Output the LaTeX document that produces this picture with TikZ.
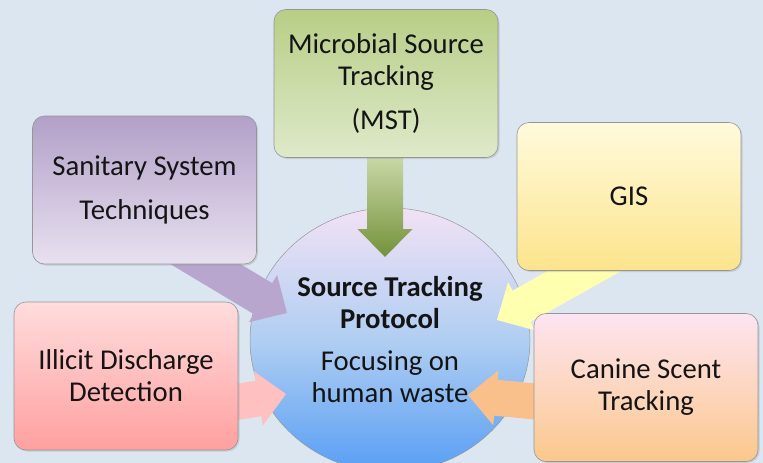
\documentclass[tikz,border=0pt]{standalone}
\usepackage{fontspec}
\setmainfont{Carlito}
\usetikzlibrary{calc, positioning, shadows, shapes.geometric}

\definecolor{slidebg}{RGB}{220,230,241}
\definecolor{inktext}{RGB}{20,20,20}
\definecolor{boxedge}{RGB}{150,150,150}
\definecolor{hubtop}{RGB}{242,226,245}
\definecolor{hubmid}{RGB}{176,206,242}
\definecolor{hubbot}{RGB}{88,158,244}
\definecolor{greentop}{RGB}{184,206,134}
\definecolor{greenbot}{RGB}{222,233,202}
\definecolor{purpletop}{RGB}{178,160,200}
\definecolor{purplebot}{RGB}{232,225,240}
\definecolor{yellowtop}{RGB}{255,250,220}
\definecolor{yellowbot}{RGB}{252,228,140}
\definecolor{redtop}{RGB}{255,220,220}
\definecolor{redbot}{RGB}{255,160,160}
\definecolor{pinktop}{RGB}{253,228,242}
\definecolor{orangebot}{RGB}{251,200,140}
\definecolor{greenlight}{RGB}{212,226,182}
\definecolor{greendark}{RGB}{116,145,58}
\definecolor{purplearrow}{RGB}{184,166,206}
\definecolor{yellowarrow}{RGB}{255,255,176}
\definecolor{redarrow}{RGB}{255,192,192}
\definecolor{orangearrow}{RGB}{250,192,140}

\pgfdeclarelayer{backdrop}
\pgfdeclarelayer{hubs}
\pgfdeclarelayer{arrows}
\pgfsetlayers{backdrop,hubs,arrows,main}

\tikzset{
    box/.style={rectangle, rounded corners=12pt, draw=boxedge, line width=.6pt,
        minimum width=224pt, minimum height=148pt, inner sep=0pt, align=center,
        font=\fontsize{28.7}{32}\selectfont, text=inktext,
        drop shadow={shadow xshift=1.5pt, shadow yshift=-1.5pt, opacity=.25}},
    hub/.style={ellipse, draw=boxedge, line width=.5pt, inner sep=0pt,
        minimum width=280pt, minimum height=264pt, align=center,
        font=\fontsize{28.7}{32}\selectfont, text=inktext,
        top color=hubtop, bottom color=hubbot, middle color=hubmid},
    greenbox/.style={top color=greentop, bottom color=greenbot},
    purplebox/.style={top color=purpletop, bottom color=purplebot},
    yellowbox/.style={top color=yellowtop, bottom color=yellowbot},
    redbox/.style={top color=redtop, bottom color=redbot},
    orangebox/.style={top color=pinktop, bottom color=orangebot},
    mstArrow/.style={top color=greenlight, bottom color=greendark},
    sanArrow/.style={fill=purplearrow},
    gisArrow/.style={fill=yellowarrow},
    idArrow/.style={fill=redarrow},
    canArrow/.style={fill=orangearrow},
}

% block arrow: #1 style, #2 start, #3 tip
\newcommand{\blockarrow}[3]{%
    \path (#2) coordinate (ab) ($(#3)!28pt!(#2)$) coordinate (ah);
    \path[#1] ($(ab)!18pt!90:(#3)$) -- ($(ah)!18pt!90:(#3)$)
        -- ($(ah)!27.5pt!90:(#3)$) -- (#3) -- ($(ah)!27.5pt!-90:(#3)$)
        -- ($(ah)!18pt!-90:(#3)$) -- ($(ab)!18pt!-90:(#3)$) -- cycle;
}

\begin{document}
\begin{tikzpicture}[x=1pt, y=-1pt]
    \begin{pgfonlayer}{backdrop}
        \fill[slidebg] (0,0) rectangle (763,463);
    \end{pgfonlayer}
    \useasboundingbox (0,0) rectangle (763,463);
    \clip (0,0) rectangle (763,463);

    \begin{pgfonlayer}{hubs}
        \node[hub] (protocol) at (390,340)
            {\textbf{Source Tracking}\\\textbf{Protocol}\\[10pt]Focusing on\\human waste};
    \end{pgfonlayer}

    \node[box, greenbox] (mst) at (386,83.5) {Microbial Source\\Tracking\\[12pt](MST)};
    \node[box, purplebox] (sanitary) at (144.5,190) {Sanitary System\\[12pt]Techniques};
    \node[box, yellowbox] (gis) at (629,196.5) {GIS};
    \node[box, redbox] (illicit) at (126,376) {Illicit Discharge\\Detection};
    \node[box, orangebox] (canine) at (646,387.5) {Canine Scent\\Tracking};

    \coordinate (mstTip) at (385,257);
    \coordinate (sanTip) at (287,313);
    \coordinate (gisTip) at (497,320);
    \coordinate (idTip) at (286,394);
    \coordinate (canTip) at (468,395);

    \begin{pgfonlayer}{arrows}
        \blockarrow{mstArrow}{$(mst)+(-1,60)$}{mstTip}
        \blockarrow{sanArrow}{$(sanitary)+(14,46)$}{sanTip}
        \blockarrow{gisArrow}{$(gis)+(8,45)$}{gisTip}
        \blockarrow{idArrow}{$(illicit)+(12,42)$}{idTip}
        \blockarrow{canArrow}{$(canine)+(-29,22)$}{canTip}
    \end{pgfonlayer}
\end{tikzpicture}
\end{document}
